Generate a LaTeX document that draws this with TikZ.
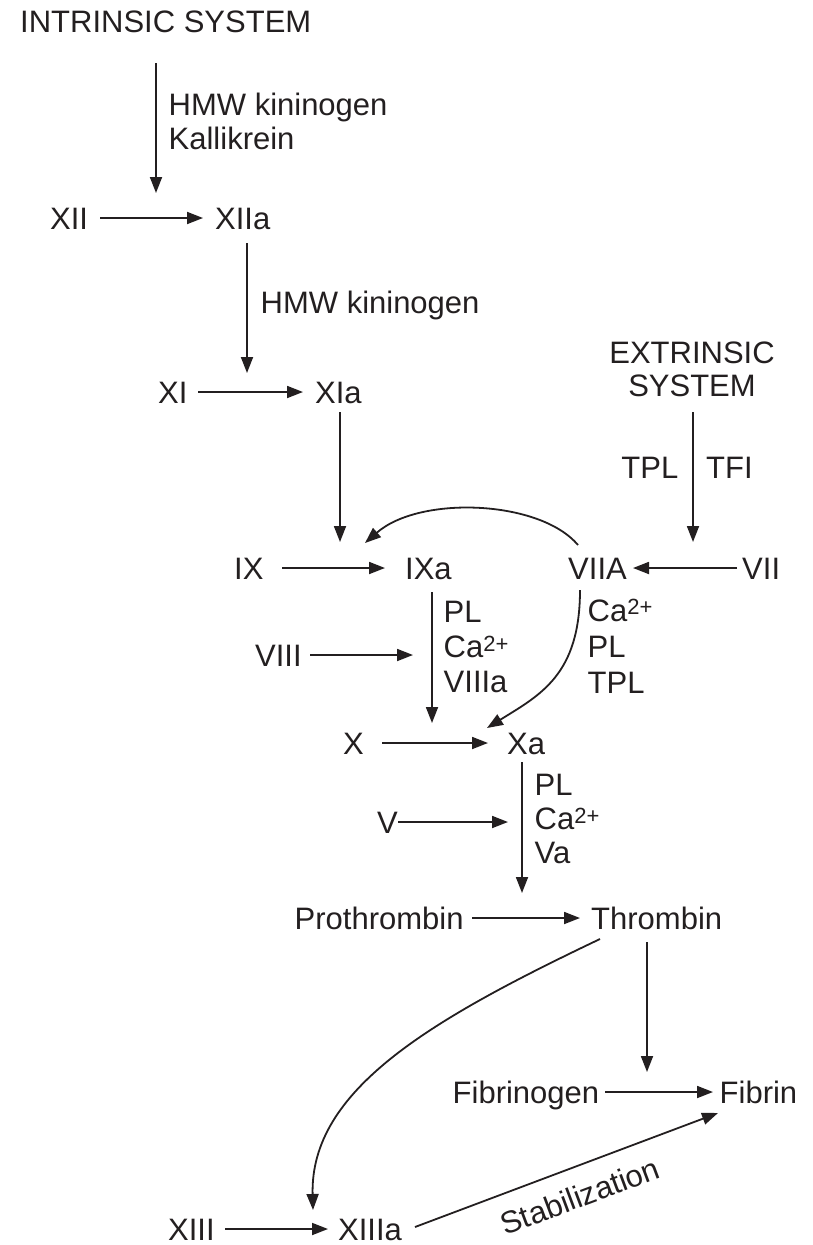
\documentclass[tikz,border=0pt]{standalone}
\usepackage{fontspec}
\setmainfont{Liberation Sans}
\usetikzlibrary{arrows.meta,calc}
\definecolor{ink}{HTML}{231F20}
\newcommand\chg{\raisebox{6.5pt}{\fontsize{22}{22}\selectfont 2+}}
\begin{document}
\begin{tikzpicture}[x=1pt,y=-1pt,
  fac/.style={inner sep=0pt, anchor=west, text height=26pt, text depth=3pt, font=\fontsize{31}{35}\selectfont, text=ink},
  lab/.style={inner sep=0pt, anchor=north west, align=left, font=\fontsize{31}{35}\selectfont, text=ink},
  arr/.style={draw=ink, line width=1.8pt, -{Triangle[length=16pt,width=12pt]}}
]
\useasboundingbox (0,0) rectangle (812,1245);

% nodes
\node[fac] (intr) at (20,21) {INTRINSIC SYSTEM};
\node[lab, font=\fontsize{31}{34.5}\selectfont] (hk1) at (168.5,92.5) {HMW kininogen\\Kallikrein};
\node[fac] (XII) at (50,218) {XII};
\node[fac] (XIIa) at (215,218) {XIIa};
\node[fac] (hk2) at (260.5,302) {HMW kininogen};
\node[fac] (XI) at (158,392) {XI};
\node[fac] (XIa) at (315,392) {XIa};
\node[lab, align=center, anchor=north, font=\fontsize{31}{33}\selectfont] (ext) at (692,342) {EXTRINSIC\\SYSTEM};
\node[fac, anchor=east] (tpl) at (678.5,467) {TPL};
\node[fac] (tfi) at (706,467) {TFI};
\node[fac] (IX) at (234,568) {IX};
\node[fac] (IXa) at (405,568) {IXa};
\node[fac] (VIIA) at (568,568) {VIIA};
\node[fac] (VII) at (742,568) {VII};
\node[lab] (c9) at (443.5,601) {PL\\Ca\chg\\VIIIa};
\node[lab, font=\fontsize{31}{36}\selectfont] (c7) at (587.5,599) {Ca\chg\\PL\\TPL};
\node[fac] (VIII) at (255,655) {VIII};
\node[fac] (X) at (343,743) {X};
\node[fac] (Xa) at (507,743) {Xa};
\node[lab, font=\fontsize{31}{34}\selectfont] (c10) at (534.5,774) {PL\\Ca\chg\\Va};
\node[fac] (V) at (377,822) {V};
\node[fac] (Pro) at (294.5,918) {Prothrombin};
\node[fac] (Thr) at (591,918) {Thrombin};
\node[fac] (Fbg) at (452.5,1092) {Fibrinogen};
\node[fac] (Fib) at (719.5,1092) {Fibrin};
\node[fac] (XIII) at (168,1229) {XIII};
\node[fac] (XIIIa) at (338,1229) {XIIIa};
\node[inner sep=0pt, font=\fontsize{31}{35}\selectfont, text=ink, rotate=20.5] (stab) at (580,1196) {Stabilization};

% free ends of connectors
\coordinate (e1) at (156,193);
\coordinate (e3) at (247,373);
\coordinate (e5) at (340,542);
\coordinate (e6) at (693,542);
\coordinate (e8) at (365,543);
\coordinate (e10) at (432,723);
\coordinate (e11) at (413,655);
\coordinate (e12) at (487,728);
\coordinate (e14) at (522,893);
\coordinate (e15) at (508,822);
\coordinate (e17) at (647,1072);
\coordinate (e18) at (313,1210);

% connectors
\draw[arr] ($(intr.west)+(136,42)$) -- (e1);
\draw[arr] ($(XII.west)+(50,0)$) -- ($(XIIa.west)+(-12,0)$);
\draw[arr] ($(XIIa.west)+(32,25)$) -- (e3);
\draw[arr] ($(XI.west)+(40,0)$) -- ($(XIa.west)+(-12,0)$);
\draw[arr] ($(XIa.west)+(25,20)$) -- (e5);
\draw[arr] ($(ext.south)+(1,15)$) -- (e6);
\draw[arr] ($(VII.west)+(-5,0)$) -- ($(VIIA.west)+(65,0)$);
\draw[arr] ($(VIIA.west)+(10,-23)$) .. controls (540,500) and (420,495) .. (e8);
\draw[arr] ($(IX.west)+(48,0)$) -- ($(IXa.west)+(-20,0)$);
\draw[arr] ($(IXa.west)+(27,24)$) -- (e10);
\draw[arr] ($(VIII.west)+(55,0)$) -- (e11);
\draw[arr] ($(VIIA.west)+(12,22)$) .. controls (580,675) and (540,695) .. (e12);
\draw[arr] ($(X.west)+(39,0)$) -- ($(Xa.west)+(-19,0)$);
\draw[arr] ($(Xa.west)+(15,19)$) -- (e14);
\draw[arr] ($(V.west)+(21,0)$) -- (e15);
\draw[arr] ($(Pro.west)+(177.5,0)$) -- ($(Thr.west)+(-11,0)$);
\draw[arr] ($(Thr.west)+(56,24)$) -- (e17);
\draw[arr] ($(Thr.west)+(9,21)$) .. controls (430,1020) and (310,1090) .. (e18);
\draw[arr] ($(Fbg.west)+(152.5,0)$) -- ($(Fib.west)+(-6.5,0)$);
\draw[arr] ($(XIII.west)+(57,0)$) -- ($(XIIIa.west)+(-10,0)$);
\draw[arr] ($(XIIIa.west)+(77,-2)$) -- ($(Fib.west)+(-1.5,21)$);
\end{tikzpicture}
\end{document}
